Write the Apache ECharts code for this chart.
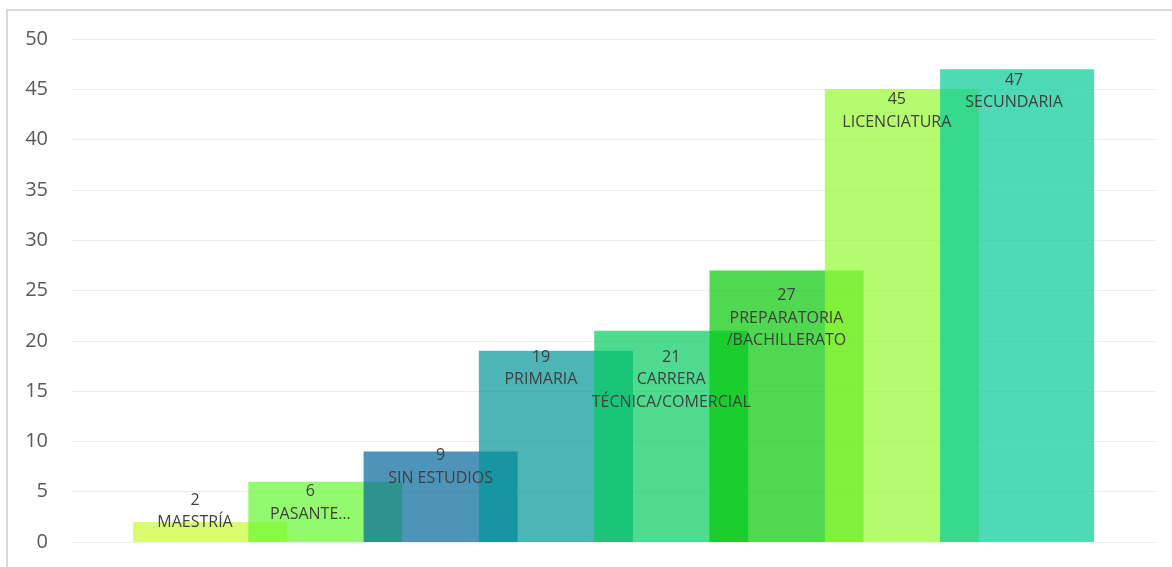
<!DOCTYPE html>
<html>
<head>
<meta charset="utf-8">
<script src="https://cdn.jsdelivr.net/npm/echarts@6/dist/echarts.min.js"></script>
<style>
  html, body { margin: 0; padding: 0; background: #fff; }
  #wrap { position: relative; width: 1172px; height: 567px; overflow: hidden; }
  #frame { position: absolute; left: 6px; top: 9px; width: 1180px; height: 600px; border: 2px solid #d9d9d9; box-sizing: border-box; }
  #chart { position: absolute; left: 0; top: 0; width: 1172px; height: 567px; }
</style>
</head>
<body>
<div id="wrap">
  <div id="frame"></div>
  <div id="chart"></div>
</div>
<script>
// ---- data ----
const categories = ['MAESTRÍA', 'PASANTE…', 'SIN ESTUDIOS', 'PRIMARIA', 'CARRERA\nTÉCNICA/COMERCIAL', 'PREPARATORIA\n/BACHILLERATO', 'LICENCIATURA', 'SECUNDARIA'];
const values = [2, 6, 9, 19, 21, 27, 45, 47];
const yTicks = { min: 0, max: 50, interval: 5 };

// ---- styling ----
const barColors = ['rgba(201,249,48,0.7)', 'rgba(101,248,51,0.7)', 'rgba(3,102,154,0.7)', 'rgba(1,149,149,0.7)',
                   'rgba(4,204,95,0.7)', 'rgba(5,199,5,0.7)', 'rgba(149,249,48,0.7)', 'rgba(1,202,149,0.7)'];
const labelShift = [[-15, -33], [-15, -1], [0, -7], [-15, -5], [0, 15], [0, 14], [-5, -1], [-3, 0]];

const chart = echarts.init(document.getElementById('chart'), null, { renderer: 'canvas' });
const option = {
  animation: false,
  grid: [
    { left: 72, right: 16, top: 39, bottom: 25 },
    { left: 152.35, right: 97.25, top: 39, bottom: 25 }
  ],
  xAxis: [
    { gridIndex: 0, type: 'category', data: [''], show: false },
    { gridIndex: 1, type: 'category', data: categories, show: false }
  ],
  yAxis: [
    {
      gridIndex: 0, type: 'value', min: yTicks.min, max: yTicks.max, interval: yTicks.interval,
      axisLine: { show: false }, axisTick: { show: false },
      axisLabel: { color: '#595959', fontSize: 20, fontFamily: 'Open Sans', margin: 24 },
      splitLine: { lineStyle: { color: '#ededed', width: 1 } }
    },
    { gridIndex: 1, type: 'value', min: yTicks.min, max: yTicks.max, show: false, splitLine: { show: false } }
  ],
  series: [{
    type: 'bar',
    xAxisIndex: 1, yAxisIndex: 1,
    barWidth: 154,
    clip: false,
    data: values.map((v, i) => ({
      value: v,
      itemStyle: { color: barColors[i] },
      label: { offset: labelShift[i] }
    })),
    label: {
      show: true,
      position: 'insideTop',
      distance: 0,
      formatter: p => p.value + '\n' + p.name,
      color: '#404040',
      fontSize: 16,
      lineHeight: 22.5,
      fontFamily: 'Open Sans',
      align: 'center'
    }
  }]
};
chart.setOption(option);
</script>
</body>
</html>
